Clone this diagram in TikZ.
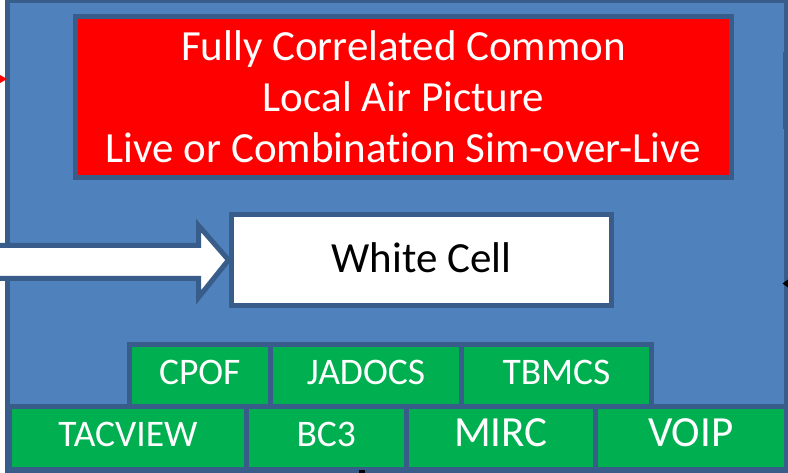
\documentclass[tikz,border=0pt]{standalone}
\usepackage{fontspec}
\setmainfont{Carlito}[Ligatures=NoCommon]
\usetikzlibrary{calc}
\definecolor{bgblue}{HTML}{4F81BD}
\definecolor{edgeblue}{HTML}{385D8A}
\definecolor{boxred}{HTML}{FF0000}
\definecolor{boxgreen}{HTML}{00B050}
\begin{document}
\begin{tikzpicture}[x=1pt,y=-1pt,
  panel/.style={draw=edgeblue, line width=5pt, rectangle, inner sep=0pt, outer sep=0pt},
  redbox/.style={panel, fill=boxred, text=white, align=center, font=\fontsize{43}{51}\selectfont},
  cellbox/.style={panel, fill=white, text=black, font=\fontsize{43}{49}\selectfont, text height=30pt, text depth=4pt},
  toolbox/.style={panel, fill=boxgreen, text=white, font=\fontsize{37.5}{43}\selectfont, text height=25pt, text depth=8pt},
  bigtool/.style={toolbox, font=\fontsize{43}{48}\selectfont},
  blockarrow/.style={draw=edgeblue, line width=5pt, fill=white, line join=miter},
  tickmark/.style={fill=black},
]
\useasboundingbox (0,0) rectangle (788,473);
\clip (0,0) rectangle (788,473);
% outer panel
\node[panel, fill=bgblue, minimum width=778.5pt, minimum height=469.5pt] (frame) at (396.75,235.25) {};
\draw[edgeblue, line width=1.5pt] (783.3,52) -- (783.3,129);
% red picture box
\node[redbox, minimum width=656pt, minimum height=161pt] (air) at (403.5,97)
  {Fully Correlated Common\\Local Air Picture\\Live or Combination Sim-over-Live};
% white cell
\node[cellbox, minimum width=380pt, minimum height=91pt] (white) at (421.5,260) {White Cell};
% big block arrow into the white cell
\coordinate (arrowtail) at (-10,262);
\draw[blockarrow] (arrowtail |- 0,245.5) -- ($(white.west)+(-33,-14.5)$) -- ($(white.west)+(-33,-34.5)$)
  -- ($(white.west)+(-3,0)$) -- ($(white.west)+(-33,37.5)$) -- ($(white.west)+(-33,18.5)$)
  -- (arrowtail |- 0,278.5);
% tools, top row
\node[toolbox, minimum width=141.5pt, minimum height=61.5pt] (cpof) at (199.75,375.75) {CPOF};
\node[toolbox, minimum width=191pt, minimum height=61.5pt] (jadocs) at (366,375.75) {JADOCS};
\node[toolbox, minimum width=190pt, minimum height=61.5pt] (tbmcs) at (556.5,375.75) {TBMCS};
% tools, bottom row
\node[toolbox, minimum width=237pt, minimum height=63pt] (tacview) at (128,438) {TACVIEW};
\node[toolbox, minimum width=159.5pt, minimum height=63pt] (bc3) at (326.25,438) {BC3};
\node[bigtool, minimum width=189.5pt, minimum height=63pt] (mirc) at (500.75,438) {MIRC};
\node[bigtool, minimum width=190.5pt, minimum height=63pt] (voip) at (690.75,438) {VOIP};
% small marks at the edges
\fill[boxred] (7,79) -- (0,75) -- (0,83) -- cycle;
\fill[tickmark] (782.5,283.5) -- (788,279.5) -- (788,287.5) -- cycle;
\fill[tickmark] (359,470) rectangle (365,473);
\end{tikzpicture}
\end{document}
